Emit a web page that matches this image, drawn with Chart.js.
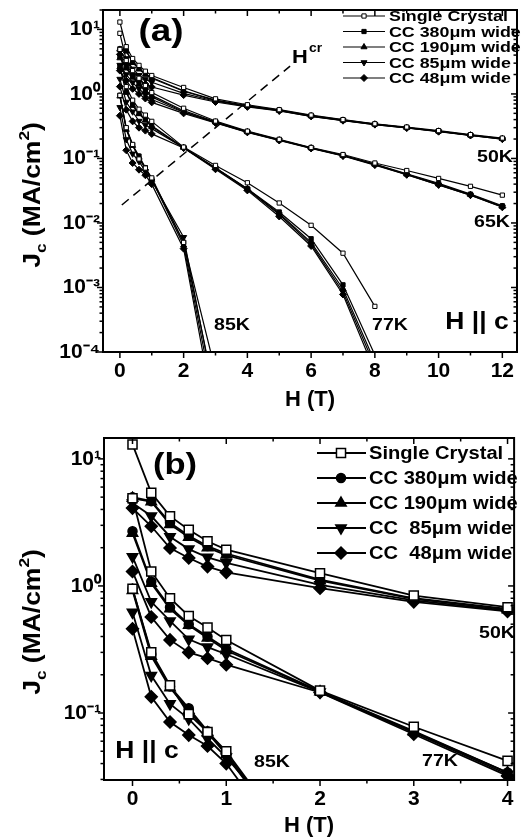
<!DOCTYPE html>
<html>
<head>
<meta charset="utf-8">
<script src="https://cdn.jsdelivr.net/npm/chart.js@4/dist/chart.umd.min.js"></script>
<style>
  body { margin: 0; background: #fff; }
  canvas { display: block; }
</style>
</head>
<body>
<canvas id="grafA" width="522" height="420"></canvas>
<canvas id="grafB" width="522" height="420"></canvas>
<script>
// applied field H (T)
var field = [0, 0.2, 0.4, 0.6, 0.8, 1, 2, 3, 4, 5, 6, 7, 8, 9, 10, 11, 12];

// Jc (MA/cm2), one array per sample and temperature
var sc50    = [13, 5.4, 3.54, 2.77, 2.25, 1.93, 1.26, 0.84, 0.68, 0.57, 0.47, 0.40, 0.345, 0.307, 0.27, 0.234, 0.207];
var cc380_50 = [5.0, 4.65, 3.15, 2.48, 2.06, 1.8, 1.12, 0.80, 0.66, 0.56, 0.46, 0.395, 0.34, 0.30, 0.265, 0.23, 0.203];
var cc190_50 = [4.9, 4.6, 3.05, 2.42, 2.0, 1.75, 1.10, 0.79, 0.65, 0.555, 0.455, 0.39, 0.34, 0.30, 0.264, 0.23, 0.202];
var cc85_50  = [4.5, 3.55, 2.44, 1.95, 1.68, 1.52, 1.02, 0.77, 0.64, 0.55, 0.45, 0.39, 0.335, 0.298, 0.262, 0.228, 0.2];
var cc48_50  = [4.1, 2.95, 1.99, 1.66, 1.42, 1.28, 0.96, 0.75, 0.63, 0.545, 0.45, 0.385, 0.335, 0.297, 0.26, 0.227, 0.2];

var sc65    = [8.7, 3.3, 2.3, 1.75, 1.35, 1.05, 0.60, 0.38, 0.265, 0.198, 0.148, 0.115, 0.085, 0.065, 0.049, 0.037, 0.027];
var cc380_65 = [3.8, 2.6, 1.9, 1.45, 1.15, 0.95, 0.55, 0.37, 0.26, 0.195, 0.146, 0.112, 0.082, 0.058, 0.041, 0.028, 0.0185];
var cc190_65 = [3.6, 2.5, 1.8, 1.4, 1.1, 0.9, 0.53, 0.365, 0.258, 0.193, 0.145, 0.111, 0.081, 0.057, 0.040, 0.0275, 0.018];
var cc85_65  = [2.8, 2.0, 1.5, 1.2, 0.97, 0.82, 0.52, 0.36, 0.256, 0.192, 0.144, 0.11, 0.08, 0.056, 0.039, 0.027, 0.0178];
var cc48_65  = [2.3, 1.6, 1.2, 1.0, 0.85, 0.74, 0.50, 0.355, 0.254, 0.19, 0.143, 0.109, 0.079, 0.056, 0.039, 0.027, 0.0175];

var sc77    = [4.9, 1.3, 0.8, 0.58, 0.47, 0.376, 0.15, 0.078, 0.042, 0.0204, 0.0092, 0.0034, 0.00051];
var cc380_77 = [2.7, 1.08, 0.68, 0.50, 0.40, 0.32, 0.148, 0.072, 0.034, 0.0148, 0.0057, 0.0011, 0.00009];
var cc190_77 = [2.6, 1.05, 0.66, 0.49, 0.39, 0.31, 0.147, 0.071, 0.034, 0.014, 0.005, 0.00095, 0.00007];
var cc85_77  = [1.7, 0.75, 0.53, 0.38, 0.33, 0.29, 0.146, 0.07, 0.033, 0.0135, 0.0047, 0.00085, 0.00006];
var cc48_77  = [1.3, 0.57, 0.376, 0.30, 0.27, 0.24, 0.145, 0.068, 0.032, 0.0126, 0.0044, 0.00078, 0.00005];

var sc85    = [0.95, 0.30, 0.165, 0.098, 0.071, 0.05, 0.005, 0.00005];
var cc380_85 = [0.95, 0.29, 0.162, 0.109, 0.072, 0.048, 0.005, 0.00002];
var cc190_85 = [0.92, 0.28, 0.158, 0.105, 0.07, 0.047, 0.0045, 0.000013];
var cc85_85  = [0.62, 0.197, 0.118, 0.09, 0.063, 0.045, 0.006, 0.000017];
var cc48_85  = [0.46, 0.134, 0.085, 0.067, 0.055, 0.04, 0.004, 0.0000085];

// H^cr dashed guide (panel a)
var hcrX = [0.06, 5.34];
var hcrY = [0.019, 2.7];

var samples = ['Single Crystal', 'CC 380\u03bcm wide', 'CC 190\u03bcm wide', 'CC 85\u03bcm wide', 'CC 48\u03bcm wide'];
var samplesB = ['Single Crystal', 'CC 380\u03bcm wide', 'CC 190\u03bcm wide', 'CC  85\u03bcm wide', 'CC  48\u03bcm wide'];
var curves = {
  '50K': [sc50, cc380_50, cc190_50, cc85_50, cc48_50],
  '65K': [sc65, cc380_65, cc190_65, cc85_65, cc48_65],
  '77K': [sc77, cc380_77, cc190_77, cc85_77, cc48_77],
  '85K': [sc85, cc380_85, cc190_85, cc85_85, cc48_85]
};

// axis ticks
var xTicksA = [0, 2, 4, 6, 8, 10, 12];
var xMinorA = [1, 3, 5, 7, 9, 11];
var yTicksA = [1e-4, 1e-3, 1e-2, 1e-1, 1, 10];
var xTicksB = [0, 1, 2, 3, 4];
var xMinorB = [0.5, 1.5, 2.5, 3.5];
var yTicksB = [0.1, 1, 10];

var FONT = "'Liberation Sans', Arial, sans-serif";
var STRETCH = 1.15;
Chart.defaults.font.family = FONT;
Chart.defaults.font.weight = 'bold';
Chart.defaults.color = '#000';

var sup = { '-': '\u207b', '0': '\u2070', '1': '\u00b9', '2': '\u00b2', '3': '\u00b3', '4': '\u2074' };
function powLabel(v) {
  var l = Math.log10(v);
  if (Math.abs(l - Math.round(l)) > 1e-6) return '';
  return '10' + String(Math.round(l)).split('').map(function (c) { return sup[c]; }).join('');
}

function buildSets(temps, mk) {
  var sets = [];
  samples.forEach(function (name, s) {
    temps.forEach(function (t) {
      var vals = curves[t][s];
      sets.push({
        label: name + ' ' + t,
        data: vals.map(function (v, i) { return { x: field[i], y: v }; }),
        borderColor: '#000',
        backgroundColor: s === 0 ? '#fff' : '#000',
        borderWidth: mk.line,
        pointStyle: mk.style[s],
        rotation: mk.rot[s],
        pointRadius: mk.size[s],
        pointBorderWidth: mk.pbw,
        pointBackgroundColor: s === 0 ? '#fff' : '#000',
        pointBorderColor: '#000',
        tension: 0
      });
    });
  });
  return sets;
}

// stretched bold text (the figure's lettering is wider than plain Arial)
function wideText(ctx, text, x, y, size, align, base) {
  ctx.save();
  ctx.font = 'bold ' + size + 'px ' + FONT;
  ctx.textAlign = align || 'center';
  ctx.textBaseline = base || 'middle';
  ctx.translate(x, y);
  ctx.scale(STRETCH, 1);
  ctx.fillText(text, 0, 0);
  ctx.restore();
}

// frame, ticks on four sides, legend and text notes
var framePlugin = {
  id: 'frame',
  afterDraw: function (chart, args, o) {
    var ctx = chart.ctx, a = chart.chartArea, xs = chart.scales.x, ys = chart.scales.y;
    ctx.save();
    ctx.strokeStyle = '#000';
    ctx.fillStyle = '#000';
    function seg(x1, y1, x2, y2) { ctx.beginPath(); ctx.moveTo(x1, y1); ctx.lineTo(x2, y2); ctx.stroke(); }
    ctx.lineWidth = 1.5;
    o.xMajor.forEach(function (v) { var p = xs.getPixelForValue(v); seg(p, a.bottom, p, a.bottom + 6); seg(p, a.top, p, a.top + 6); });
    o.xMinor.forEach(function (v) { var p = xs.getPixelForValue(v); seg(p, a.bottom, p, a.bottom + 3.5); seg(p, a.top, p, a.top + 3.5); });
    var k0 = Math.floor(Math.log10(ys.min)), k1 = Math.ceil(Math.log10(ys.max));
    for (var k = k0; k <= k1; k++) {
      for (var m = 1; m <= 9; m++) {
        var v = m * Math.pow(10, k);
        if (v < ys.min * 0.999 || v > ys.max) continue;
        var p = ys.getPixelForValue(v), len = m === 1 ? 6 : 3.5;
        seg(a.left - len, p, a.left, p);
        seg(a.right - len, p, a.right, p);
      }
    }
    ctx.lineWidth = 2;
    ctx.strokeRect(a.left, a.top, a.right - a.left, a.bottom - a.top);

    // y title  J_c (MA/cm^2)
    ctx.save();
    ctx.translate(o.yTitle.x, o.yTitle.y);
    ctx.rotate(-Math.PI / 2);
    ctx.scale(STRETCH, 1);
    var parts = [['J', 23, 0], ['c', 15, 6], [' (MA/cm', 23, 0], ['2', 15, -11], [')', 23, 0]];
    var tot = 0;
    parts.forEach(function (q) { ctx.font = 'bold ' + q[1] + 'px ' + FONT; tot += ctx.measureText(q[0]).width; });
    var xx = -tot / 2;
    ctx.textBaseline = 'alphabetic';
    parts.forEach(function (q) { ctx.font = 'bold ' + q[1] + 'px ' + FONT; ctx.fillText(q[0], xx, q[2]); xx += ctx.measureText(q[0]).width; });
    ctx.restore();

    // notes
    o.notes.forEach(function (t) { wideText(ctx, t.text, t.x, t.y, t.size, t.align, t.base); });

    // legend
    var L = o.legend;
    L.names.forEach(function (name, i) {
      var y = L.y0 + i * L.dy;
      ctx.lineWidth = L.line;
      ctx.strokeStyle = '#000';
      seg(L.x1, y, L.x2, y);
      ctx.fillStyle = i === 0 ? '#fff' : '#000';
      ctx.lineWidth = L.pbw;
      Chart.helpers.drawPoint(ctx, { pointStyle: L.style[i], radius: L.size[i], rotation: L.rot[i], borderWidth: L.pbw }, L.mx, y);
      ctx.fillStyle = '#000';
      wideText(ctx, name, L.tx, y + 1, L.font, 'left', 'middle');
    });
    ctx.restore();
  }
};

function makeChart(id, sets, xr, yr, xTicks, yTicks, extra) {
  return new Chart(document.getElementById(id), {
    type: 'line',
    data: { datasets: sets },
    options: {
      responsive: false,
      animation: false,
      events: [],
      layout: { padding: { left: 0, right: 1, top: extra.top, bottom: 0 } },
      scales: {
        x: {
          type: 'linear', min: xr[0], max: xr[1],
          afterBuildTicks: function (s) { s.ticks = xTicks.map(function (v) { return { value: v }; }); },
          afterFit: function (s) { s.height = extra.xh; s.paddingLeft = 0; s.paddingRight = 0; },
          grid: { display: false, drawTicks: false },
          border: { display: false },
          ticks: { autoSkip: false, maxRotation: 0, padding: extra.xpad, font: { size: 21, weight: 'bold' } },
          title: { display: true, text: 'H (T)', font: { size: 22, weight: 'bold' }, padding: { top: 0, bottom: extra.tpad } }
        },
        y: {
          type: 'logarithmic', min: yr[0], max: yr[1],
          afterBuildTicks: function (s) { s.ticks = yTicks.map(function (v) { return { value: v }; }); },
          afterFit: function (s) { s.width = extra.yw; s.paddingTop = 0; s.paddingBottom = 0; },
          grid: { display: false, drawTicks: false },
          border: { display: false },
          ticks: { autoSkip: false, padding: 3, font: { size: 21, weight: 'bold' }, callback: powLabel }
        }
      },
      plugins: {
        legend: { display: false },
        tooltip: { enabled: false },
        frame: extra.frame
      }
    },
    plugins: [framePlugin]
  });
}

// panel (a)
var setsA = buildSets(['50K', '65K', '77K', '85K'], {
  line: 1.2, pbw: 1,
  style: ['rect', 'rect', 'triangle', 'triangle', 'rectRot'],
  rot: [0, 0, 0, 180, 0],
  size: [3, 3, 3.5, 3.5, 3.5]
});
setsA.push({
  label: 'Hcr',
  data: hcrX.map(function (v, i) { return { x: v, y: hcrY[i] }; }),
  borderColor: '#000', borderWidth: 1.5, borderDash: [9, 6], pointRadius: 0
});
makeChart('grafA', setsA, [-0.53, 12.46], [1e-4, 20], xTicksA, yTicksA, {
  top: 10, xh: 68, yw: 103, xpad: 7, tpad: 7,
  frame: {
    xMajor: xTicksA, xMinor: xMinorA,
    yTitle: { x: 40, y: 195 },
    notes: [
      { text: '(a)', x: 161, y: 32, size: 32 },
      { text: 'H', x: 292, y: 63, size: 19, align: 'left', base: 'alphabetic' },
      { text: 'cr', x: 309, y: 52, size: 12, align: 'left', base: 'alphabetic' },
      { text: '50K', x: 495, y: 157, size: 17 },
      { text: '65K', x: 492, y: 222, size: 17 },
      { text: '85K', x: 232, y: 325, size: 17 },
      { text: '77K', x: 390, y: 325, size: 17 },
      { text: 'H || c', x: 477, y: 323, size: 23 }
    ],
    legend: {
      names: samples, y0: 16, dy: 15.5, x1: 343, x2: 385, mx: 364, tx: 389, font: 15.5, line: 1.2, pbw: 1,
      style: ['rect', 'rect', 'triangle', 'triangle', 'rectRot'], rot: [0, 0, 0, 180, 0], size: [3, 3, 3.5, 3.5, 3.5]
    }
  }
});

// panel (b)
var setsB = buildSets(['50K', '77K', '85K'], {
  line: 1.8, pbw: 1.5,
  style: ['rect', 'circle', 'triangle', 'triangle', 'rectRot'],
  rot: [0, 0, 0, 180, 0],
  size: [6.4, 4.5, 6, 6, 6]
});
makeChart('grafB', setsB, [-0.304, 4.07], [0.0297, 14.6], xTicksB, yTicksB, {
  top: 18, xh: 60, yw: 104, xpad: 7, tpad: 1,
  frame: {
    xMajor: xTicksB, xMinor: xMinorB,
    yTitle: { x: 40, y: 202 },
    notes: [
      { text: '(b)', x: 175, y: 46, size: 30 },
      { text: '50K', x: 497, y: 213, size: 17 },
      { text: '85K', x: 272, y: 342, size: 17 },
      { text: '77K', x: 440, y: 341, size: 17 },
      { text: 'H || c', x: 147, y: 332, size: 23 }
    ],
    legend: {
      names: samplesB, y0: 33, dy: 25, x1: 317, x2: 366, mx: 341, tx: 369, font: 17.5, line: 1.8, pbw: 1.5,
      style: ['rect', 'circle', 'triangle', 'triangle', 'rectRot'], rot: [0, 0, 0, 180, 0], size: [6.4, 4.5, 6, 6, 6]
    }
  }
});
</script>
</body>
</html>
